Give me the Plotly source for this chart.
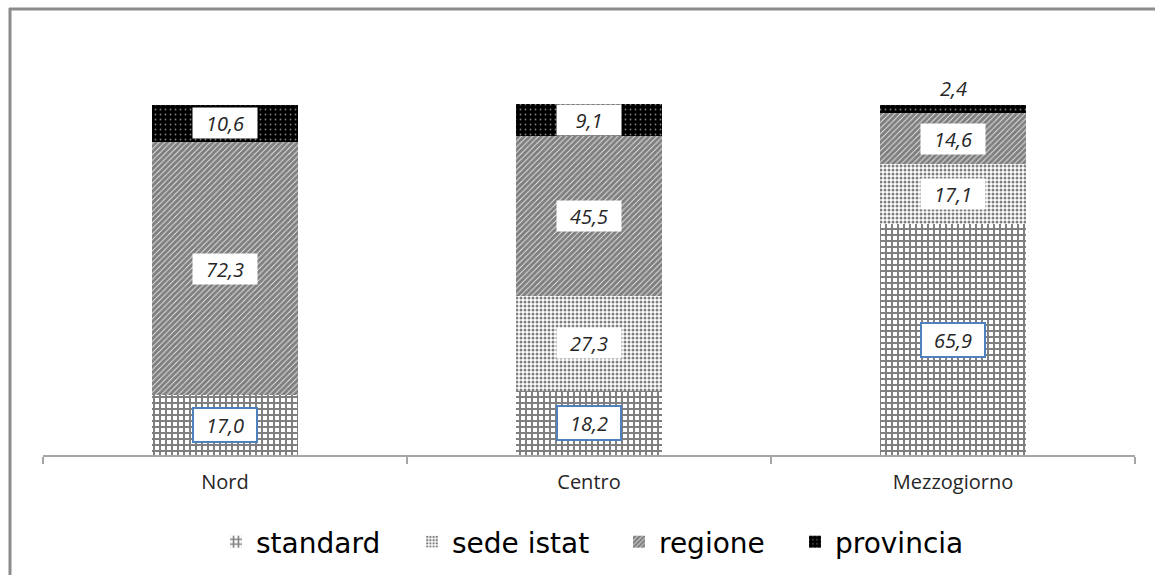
import plotly.graph_objects as go

categories = ["Nord", "Centro", "Mezzogiorno"]
standard = [17.0, 18.2, 65.9]
sede_istat = [0.0, 27.3, 17.1]
regione = [72.3, 45.5, 14.6]
provincia = [10.6, 9.1, 2.4]

series = [
    ("standard", standard, dict(shape="+", size=6, solidity=0.55, fgcolor="black", bgcolor="white")),
    ("sede istat", sede_istat, dict(shape=".", size=4, solidity=0.45, fgcolor="black", bgcolor="white")),
    ("regione", regione, dict(shape="/", size=4, solidity=0.8, fgcolor="black", bgcolor="white")),
    ("provincia", provincia, dict(shape=".", size=5, solidity=0.1, fgcolor="white", bgcolor="black")),
]

FONT = "Open Sans"
LEGEND_FONT = "DejaVu Sans"

# canvas and plot-area geometry (pixels)
W, H = 1155, 575
l, r, t, b = 43, 20, 52, 120
pw, ph = W - l - r, H - t - b
def px_x(x):
    return (x - l) / pw
def px_y(y):
    return (H - b - y) / ph

# each legend entry is placed on its own, by the left edge of its text
legend_text_left = [256, 452, 659, 835]
legend_names = ["legend", "legend2", "legend3", "legend4"]

fig = go.Figure()
for (name, vals, pat), lg in zip(series, legend_names):
    fig.add_trace(go.Bar(
        x=categories, y=vals, name=name, width=0.4, legend=lg, showlegend=True,
        marker=dict(color="white", pattern=pat, line=dict(width=0)),
    ))

def fmt(v):
    return f"{v:.1f}".replace(".", ",")

# value labels centred in each segment (the thin last one sits above the bar)
annotations = []
for ci, cat in enumerate(categories):
    base = 0.0
    for si, (name, vals, _) in enumerate(series):
        v = vals[ci]
        if v <= 0:
            continue
        yc = base + v / 2
        if si == 0:
            box = dict(bgcolor="white", bordercolor="#4F81BD", borderwidth=2,
                       borderpad=2, width=58, height=28)
        else:
            box = dict(bgcolor="white", borderpad=2, width=60, height=26)
        if v < 5:
            yc = base + v + 4.5
            box = dict()
        annotations.append(dict(
            x=cat, y=yc, xref="x", yref="y", text=f"<i>{fmt(v)}</i>",
            showarrow=False, font=dict(family=FONT, size=20, color="#262626"), **box,
        ))
        base += v

legend_style = dict(
    orientation="h", xanchor="left", y=px_y(542), yanchor="middle",
    font=dict(family=LEGEND_FONT, size=28, color="black"), itemwidth=30,
    bgcolor="rgba(0,0,0,0)",
)
legends = {}
for lg, tx in zip(legend_names, legend_text_left):
    legends[lg] = dict(legend_style, x=px_x(tx - 40))

fig.update_layout(
    barmode="stack",
    showlegend=True,
    width=W, height=H,
    paper_bgcolor="white", plot_bgcolor="white",
    margin=dict(l=l, r=r, t=t, b=b, autoexpand=False),
    font=dict(family=FONT, color="black"),
    xaxis=dict(
        showline=True, linecolor="#A6A6A6", linewidth=1.5,
        ticks="outside", tickson="boundaries", ticklen=7, tickcolor="#A6A6A6", tickwidth=1.5,
        tickfont=dict(family=FONT, size=20, color="#262626"),
        ticklabelstandoff=8,
        showgrid=False,
    ),
    yaxis=dict(range=[0, 115], visible=False, showgrid=False),
    annotations=annotations,
    **legends,
)

# outer frame: top and left edges
fig.layout.shapes = [
    dict(type="line", xref="paper", yref="paper", x0=px_x(9), y0=px_y(9), x1=px_x(1160), y1=px_y(9),
         line=dict(color="#8C8C8C", width=3)),
    dict(type="line", xref="paper", yref="paper", x0=px_x(10), y0=px_y(8), x1=px_x(10), y1=px_y(580),
         line=dict(color="#8C8C8C", width=3)),
]

fig.write_html("out.html")
